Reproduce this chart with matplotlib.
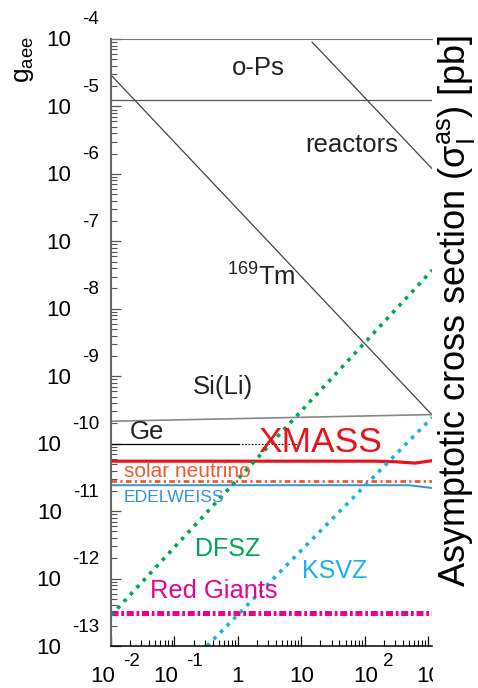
import matplotlib
matplotlib.use("Agg")
import matplotlib.pyplot as plt
import matplotlib.transforms as mtransforms
from matplotlib.patches import Rectangle
from matplotlib.ticker import LogLocator, NullFormatter

plt.rcParams['font.family'] = ['Liberation Sans', 'DejaVu Sans']
plt.rcParams['mathtext.fontset'] = 'custom'
plt.rcParams['mathtext.rm'] = 'Liberation Sans'
plt.rcParams['mathtext.it'] = 'Liberation Sans:italic'
plt.rcParams['mathtext.default'] = 'regular'

# limits (energy axis / g_aee axis)
ops_x = [1e-2, 1.2e3]
ops_y = [1.24e-5, 1.24e-5]
reactors_x = [14.8, 1.3e3]
reactors_y = [9.0e-5, 1.06e-6]
tm_x = [1e-2, 1.16e3]
tm_y = [2.92e-5, 2.65e-10]
sili_x = [1e-2, 1.16e3]
sili_y = [2.15e-10, 2.70e-10]
ge_x = [1e-2, 1.0]
ge_y = [1.0e-10, 1.0e-10]
ge_ext_x = [1.0, 9.5]
ge_ext_y = [1.0e-10, 1.0e-10]
xmass_x = [1e-2, 150, 300, 620, 1.16e3]
xmass_y = [5.5e-11, 5.5e-11, 5.4e-11, 5.15e-11, 5.6e-11]
solar_x = [1e-2, 1.16e3]
solar_y = [2.77e-11, 2.77e-11]
edel_x = [1e-2, 500, 1.16e3]
edel_y = [2.42e-11, 2.42e-11, 2.2e-11]
dfsz_x = [1e-2, 1.16e3]
dfsz_y = [2.84e-13, 3.74e-8]
ksvz_x = [0.327, 1.16e3]
ksvz_y = [1.0e-13, 2.45e-10]
rg_x = [1e-2, 1.16e3]
rg_y = [3.1e-13, 3.1e-13]

x_exps = [-2, -1, 0, 1, 2, 3]
y_exps = [-13, -12, -11, -10, -9, -8, -7, -6, -5, -4]

fig = plt.figure(figsize=(4.78, 6.88), dpi=100)
ax = fig.add_axes([111 / 478, 42 / 688, 321 / 478, 607 / 688])
ax.set_xscale('log')
ax.set_yscale('log')
ax.set_xlim(1e-2, 1.15e3)
ax.set_ylim(1e-13, 1e-4)

gray = '#555555'
ax.plot(ops_x, ops_y, color=gray, lw=0.9)
ax.plot(reactors_x, reactors_y, color='#444444', lw=0.9)
ax.plot(tm_x, tm_y, color='#444444', lw=0.9)
ax.plot(sili_x, sili_y, color='#888888', lw=1.2)
ax.plot(ge_x, ge_y, color='black', lw=0.9)
ax.plot(ge_ext_x, ge_ext_y, color='black', lw=0.8, linestyle=(0, (1.5, 1.5)))
ax.plot(xmass_x, xmass_y, color='#e8141c', lw=2.3)
ax.plot(solar_x, solar_y, color='#f15a29', lw=2.0,
        linestyle=(0, (2.0, 1.2, 0.8, 1.2)))
ax.plot(edel_x, edel_y, color='#3b8fd4', lw=1.4)
ax.plot(rg_x, rg_y, color='#ec008c', lw=3.6,
        linestyle=(0, (1.4, 0.55, 0.55, 0.55)))
ax.plot(dfsz_x, dfsz_y, color='#00a651', lw=2.6, linestyle=(0, (1, 1.6)))
ax.plot(ksvz_x, ksvz_y, color='#1cb0ea', lw=2.6, linestyle=(0, (1, 1.6)))

# labels inside the plot
tkw = dict(transform=ax.transAxes, ha='center', va='center')
ax.text(0.458, 0.952, 'o-Ps', fontsize=18.5, color='#222222', **tkw)
ax.text(0.751, 0.825, 'reactors', fontsize=18.5, color='#222222', **tkw)
ax.text(0.467, 0.608, r'$^{169}$Tm', fontsize=18.5, color='#222222', **tkw)
ax.text(0.349, 0.427, 'Si(Li)', fontsize=18.5, color='#222222', **tkw)
ax.text(0.112, 0.353, 'Ge', fontsize=18.5, color='#222222', **tkw)
ax.text(0.651, 0.336, 'XMASS', fontsize=25.5, color='#e8141c', **tkw)
ax.text(0.237, 0.287, 'solar neutrino', fontsize=15, color='#f15a29', **tkw)
ax.text(0.196, 0.245, 'EDELWEISS', fontsize=12.6, color='#3b8fd4', **tkw)
ax.text(0.364, 0.160, 'DFSZ', fontsize=18, color='#00a651', **tkw)
ax.text(0.698, 0.124, 'KSVZ', fontsize=18, color='#1cb0ea', **tkw)
ax.text(0.321, 0.091, 'Red Giants', fontsize=18.4, color='#ec008c', **tkw)

# spines and ticks
ax.spines['right'].set_visible(False)
ax.spines['top'].set_color('#777777')
ax.spines['left'].set_color('#666666')
ax.spines['left'].set_linewidth(1.5)
ax.spines['bottom'].set_color('black')
ax.spines['bottom'].set_linewidth(1.1)
ax.xaxis.set_major_locator(LogLocator(base=10, numticks=20))
ax.xaxis.set_minor_locator(LogLocator(base=10, subs=range(2, 10), numticks=20))
ax.yaxis.set_major_locator(LogLocator(base=10, numticks=20))
ax.yaxis.set_minor_locator(LogLocator(base=10, subs=range(2, 10), numticks=20))
ax.xaxis.set_minor_formatter(NullFormatter())
ax.yaxis.set_minor_formatter(NullFormatter())
ax.tick_params(which='both', direction='in', top=False, right=False,
               labelleft=False, labelbottom=False)
ax.tick_params(which='major', length=7.5, width=0.9)
ax.tick_params(which='minor', length=4, width=0.8)
ax.tick_params(axis='y', which='both', color='#555555')

# old style tick labels: "10" with a raised, detached exponent
ybl = mtransforms.blended_transform_factory(ax.transAxes, ax.transData)
for e in y_exps:
    ex = ax.annotate(str(e), xy=(0, 10.0 ** e), xycoords=ybl,
                     xytext=(-12, 19), textcoords='offset pixels',
                     ha='right', va='center', fontsize=13.5)
    ax.annotate('10', xy=(0, 0.5), xycoords=ex, xytext=(-11, -21),
                textcoords='offset pixels', ha='right', va='center',
                fontsize=16)

xbl = mtransforms.blended_transform_factory(ax.transData, ax.transAxes)
for e in x_exps:
    if e == 0 or e == 1:
        ax.annotate('1' if e == 0 else '10', xy=(10.0 ** e, 0), xycoords=xbl,
                    xytext=(0, -30), textcoords='offset pixels',
                    ha='center', va='center', fontsize=16)
        continue
    if e < 0:
        x10, xex = 4, 12
    else:
        x10, xex = 13, 18
    ax.annotate('10', xy=(10.0 ** e, 0), xycoords=xbl,
                xytext=(x10, -30), textcoords='offset pixels',
                ha='right', va='center', fontsize=16)
    ax.annotate(str(e), xy=(10.0 ** e, 0), xycoords=xbl,
                xytext=(xex, -16), textcoords='offset pixels',
                ha='left', va='center', fontsize=13.5)

# the picture is cut just right of the plot at the bottom
fig.add_artist(Rectangle((433 / 478, 0), 0.2, 36 / 688, transform=fig.transFigure,
                         facecolor='white', edgecolor='none', zorder=10))

fig.text(24 / 478, 1 - 60 / 688, r'$g_{aee}$', rotation=90, fontsize=19,
         ha='center', va='center')
fig.text(456 / 478, 1 - 311 / 688,
         r'Asymptotic cross section ($\sigma^{as}_{I}$) [pb]',
         rotation=90, fontsize=26, ha='center', va='center')

fig.savefig('out.png', dpi=100)
